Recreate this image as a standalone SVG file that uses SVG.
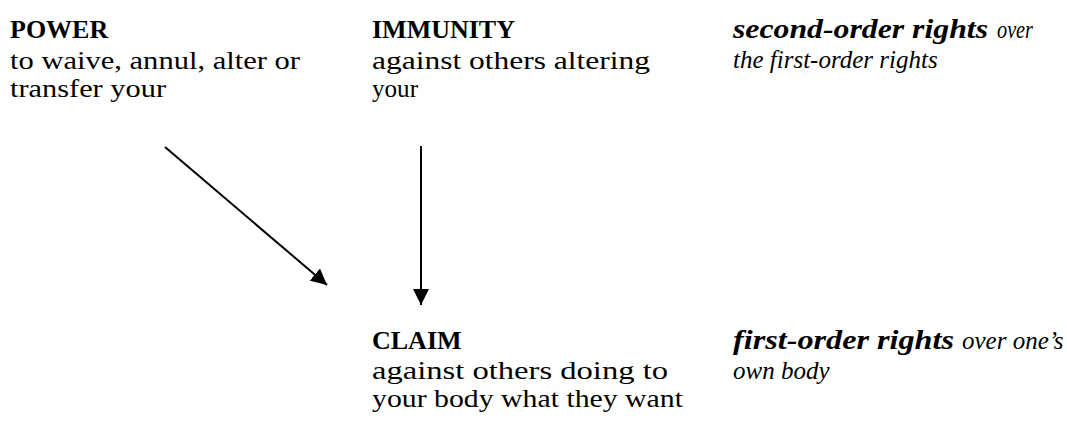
<svg xmlns="http://www.w3.org/2000/svg" width="1067" height="431" viewBox="0 0 1067 431">
<style>
text{font-family:"Liberation Serif","Times New Roman",serif;font-size:25px;fill:#000}
.h{font-weight:bold;font-size:26px}
.i{font-style:italic;font-size:25px}
.b{font-weight:bold;font-style:italic;font-size:28px}
.conn line{stroke:#000;stroke-width:2}
</style>
<defs>
<marker id="arr" viewBox="0 0 16 16" refX="16" refY="8" markerWidth="16" markerHeight="16" markerUnits="userSpaceOnUse" orient="auto">
<path d="M0,0 L16,8 L0,16 z" fill="#000"/>
</marker>
</defs>
<rect width="1067" height="431" fill="#fff"/>
<g id="power">
<text x="10" y="38" class="h">POWER</text>
<text x="10" y="69" textLength="290" lengthAdjust="spacingAndGlyphs">to waive, annul, alter or</text>
<text x="10" y="97" textLength="156" lengthAdjust="spacingAndGlyphs">transfer your</text>
</g>
<g id="immunity">
<text x="372" y="38" class="h">IMMUNITY</text>
<text x="372" y="69" textLength="278" lengthAdjust="spacingAndGlyphs">against others altering</text>
<text x="372" y="97" textLength="46" lengthAdjust="spacingAndGlyphs">your</text>
</g>
<g id="second-order">
<text x="733" y="38"><tspan class="b" textLength="255" lengthAdjust="spacingAndGlyphs">second-order rights</tspan><tspan class="i" x="997" textLength="36" lengthAdjust="spacingAndGlyphs">over</tspan></text>
<text x="733" y="68" class="i">the first-order rights</text>
</g>
<g id="claim">
<text x="372" y="349" class="h">CLAIM</text>
<text x="372" y="379" textLength="296" lengthAdjust="spacingAndGlyphs">against others doing to</text>
<text x="372" y="407" textLength="311" lengthAdjust="spacingAndGlyphs">your body what they want</text>
</g>
<g id="first-order">
<text x="733" y="349"><tspan class="b" textLength="221" lengthAdjust="spacingAndGlyphs">first-order rights</tspan><tspan class="i" x="962">over one’s</tspan></text>
<text x="733" y="379" class="i">own body</text>
</g>
<g class="conn" id="connectors">
<line x1="165" y1="147" x2="327" y2="285" marker-end="url(#arr)"/>
<line x1="421" y1="146" x2="421" y2="305" marker-end="url(#arr)"/>
</g>
</svg>
